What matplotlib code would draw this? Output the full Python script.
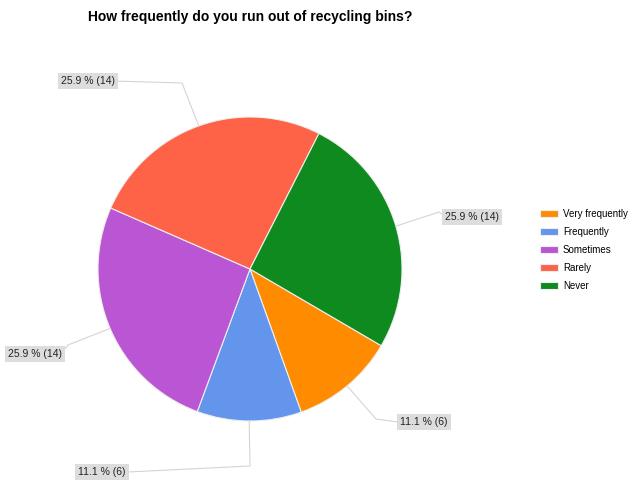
import numpy as np
import matplotlib.pyplot as plt

# ---------------------------------------------------
# Data
# ---------------------------------------------------

title = "How frequently do you run out of recycling bins?"
categories = ["Very frequently", "Frequently", "Sometimes", "Rarely", "Never"]
counts = [6, 6, 14, 14, 14]
colors = ["#ff8c00", "#6495ed", "#ba55d3", "#ff6347", "#0e8a1e"]

# label box centres and leader elbows, in pixels from the top-left
label_pos = [(424, 422), (102, 472), (35, 354), (88, 81), (472, 217)]
elbow_pos = [(376, 419), (250, 466), (68, 345), (182, 83), (439, 212)]

W, H = 628, 483
cx, cy, r = 250, 269, 152

# ---------------------------------------------------
# Plot
# ---------------------------------------------------

plt.rcParams["font.family"] = ["Liberation Sans", "DejaVu Sans"]

fig = plt.figure(figsize=(W / 100, H / 100), dpi=100)
ax = fig.add_axes([0, 0, 1, 1])

wedges, _ = ax.pie(
    counts,
    colors=colors,
    center=(cx, H - cy),
    radius=r,
    startangle=-30.3,
    counterclock=False,
    wedgeprops=dict(edgecolor="#eeeeee", linewidth=0.8),
    frame=True,
)
ax.set_xlim(0, W)
ax.set_ylim(0, H)
ax.axis("off")

total = sum(counts)
for w, n, (lx, ly), (ex, ey) in zip(wedges, counts, label_pos, elbow_pos):
    mid = np.deg2rad((w.theta1 + w.theta2) / 2)
    px = cx + r * np.cos(mid)
    py = (H - cy) + r * np.sin(mid)
    # box edge on the side facing the elbow
    side = -1 if ex < lx else 1
    bx = lx + side * 26
    ax.plot([px, ex, bx], [py, H - ey, H - ly], color="#d4d4d4",
            linewidth=0.8, zorder=1)
    ax.text(
        lx, H - ly,
        f"{100 * n / total:.1f} % ({n})",
        ha="center", va="center", fontsize=7.5, color="#222222",
        bbox=dict(boxstyle="square,pad=0.3", facecolor="#dddddd",
                  edgecolor="none"),
        zorder=3,
    )

ax.text(88, H - 21, title, fontsize=10, fontweight="bold",
        ha="left", va="baseline", color="#000000")

ax.legend(
    wedges, categories,
    loc="upper left",
    bbox_to_anchor=(540 / W, 1 - 209 / H),
    frameon=False,
    fontsize=7,
    handlelength=1.85,
    handleheight=0.72,
    handletextpad=0.5,
    labelspacing=0.82,
    borderpad=0,
    borderaxespad=0,
)

fig.savefig("out.png", dpi=100)
